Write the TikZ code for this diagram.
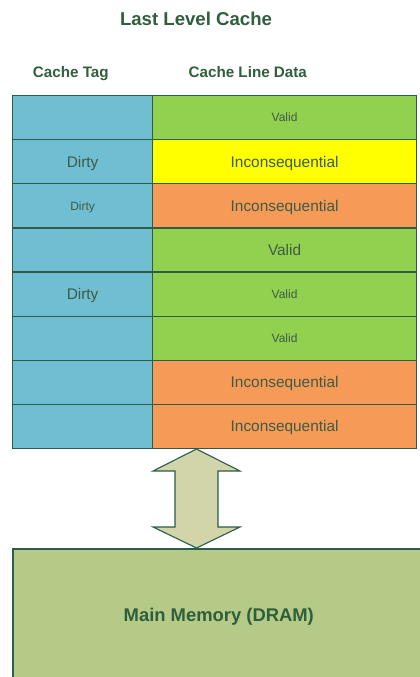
\documentclass[tikz,border=0pt]{standalone}
\usepackage{fontspec}
\setmainfont{Liberation Sans}
\usetikzlibrary{calc}
\definecolor{edge}{HTML}{2C5C4A}
\definecolor{headtext}{HTML}{2E5E3C}
\definecolor{celltext}{HTML}{3D5B45}
\definecolor{tagblue}{HTML}{70BED2}
\definecolor{okgreen}{HTML}{92D050}
\definecolor{hiyellow}{HTML}{FFFF00}
\definecolor{loworange}{HTML}{F59B57}
\definecolor{dramgreen}{HTML}{B5CA87}
\definecolor{busfill}{HTML}{D2D4AA}
\begin{document}
\begin{tikzpicture}[x=1pt,y=-1pt,
  cell/.style={draw=edge, line width=1.2pt, minimum height=44.1pt, inner sep=0pt,
    anchor=north west, text=celltext, text depth=0pt},
  tagcell/.style={cell, fill=tagblue, minimum width=140pt},
  datacell/.style={cell, minimum width=264pt},
  bigtxt/.style={font=\fontsize{15.4}{18}\selectfont, text height=11pt},
  smalltxt/.style={font=\fontsize{12}{14}\selectfont, text height=8.6pt},
  head/.style={font=\bfseries\fontsize{15.2}{18}\selectfont, text=headtext,
    text height=10.9pt, text depth=0pt, inner sep=0pt},
  bus/.style={draw=edge, line width=1.1pt, fill=busfill, line join=miter}]
\useasboundingbox (0,0) rectangle (420,677);
\clip (0,0) rectangle (420,677);

% titles
\node[head, font=\bfseries\fontsize{18.6}{22}\selectfont, text height=13.3pt] (title) at (196,18.7) {Last Level Cache};
\node[head] (tagh) at (70.8,72) {Cache Tag};
\node[head] (datah) at (247.8,72) {Cache Line Data};

% cache lines: tag column and data column
\node[tagcell] (t1) at (12,95) {};
\node[datacell, fill=okgreen, smalltxt] (d1) at (152,95) {Valid};
\node[tagcell, bigtxt] (t2) at (12,139.1) {Dirty};
\node[datacell, fill=hiyellow, bigtxt] (d2) at (152,139.1) {Inconsequential};
\node[tagcell, smalltxt] (t3) at (12,183.2) {Dirty};
\node[datacell, fill=loworange, bigtxt] (d3) at (152,183.2) {Inconsequential};
\node[tagcell] (t4) at (12,227.3) {};
\node[datacell, fill=okgreen, bigtxt] (d4) at (152,227.3) {Valid};
\node[tagcell, bigtxt] (t5) at (12,271.4) {Dirty};
\node[datacell, fill=okgreen, smalltxt] (d5) at (152,271.4) {Valid};
\node[tagcell] (t6) at (12,315.5) {};
\node[datacell, fill=okgreen, smalltxt] (d6) at (152,315.5) {Valid};
\node[tagcell] (t7) at (12,359.6) {};
\node[datacell, fill=loworange, bigtxt] (d7) at (152,359.6) {Inconsequential};
\node[tagcell] (t8) at (12,403.7) {};
\node[datacell, fill=loworange, bigtxt] (d8) at (152,403.7) {Inconsequential};

% main memory
\node[draw=edge, line width=1.6pt, fill=dramgreen, anchor=north west, minimum width=412pt,
  minimum height=132.6pt, inner sep=0pt, text=headtext, font=\bfseries\fontsize{18.4}{22}\selectfont,
  text height=13.2pt, text depth=0pt] (mem) at (12,548) {Main Memory (DRAM)};

% bidirectional bus between cache and memory
\path (d8.south west) ++(44.5,0) coordinate (tipA);
\path (mem.north west) ++(184.5,0) coordinate (tipB);
\draw[bus] (tipA) -- ($(tipA)+(43.5,22)$) -- ($(tipA)+(21.5,22)$) -- ($(tipB)+(21.5,-21)$)
  -- ($(tipB)+(43.5,-21)$) -- (tipB) -- ($(tipB)+(-43.5,-21)$) -- ($(tipB)+(-21.5,-21)$)
  -- ($(tipA)+(-21.5,22)$) -- ($(tipA)+(-43.5,22)$) -- cycle;
\end{tikzpicture}
\end{document}
